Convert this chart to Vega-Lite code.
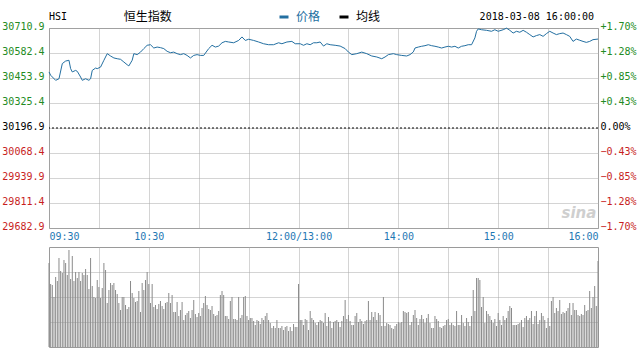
{
  "$schema": "https://vega.github.io/schema/vega-lite/v6.json",
  "padding": {"left": 1, "top": 10, "right": 0, "bottom": 0},
  "background": "white",
  "config": {
    "view": {"stroke": "#9a9a9a", "strokeWidth": 1},
    "axis": {"domain": false, "ticks": false, "grid": true, "gridColor": "#a8a8a8", "gridDash": [1, 1], "gridWidth": 1, "labelFont": "DejaVu Sans Mono", "labelFontSize": 10, "title": null},
    "concat": {"spacing": 4}
  },
  "datasets": {
    "price": [
      {"t":0,"p":30485},{"t":1,"p":30468},{"t":4,"p":30442},{"t":6,"p":30450},{"t":8,"p":30528},{"t":10,"p":30541},{"t":12,"p":30545},{"t":13,"p":30502},{"t":14,"p":30485},{"t":16,"p":30493},{"t":17,"p":30488},{"t":19,"p":30459},{"t":20,"p":30442},{"t":22,"p":30450},{"t":24,"p":30442},{"t":25,"p":30450},{"t":26,"p":30493},{"t":28,"p":30505},{"t":29,"p":30502},{"t":31,"p":30510},{"t":33,"p":30545},{"t":35,"p":30579},{"t":37,"p":30567},{"t":39,"p":30557},{"t":41,"p":30553},{"t":43,"p":30550},{"t":45,"p":30536},{"t":47,"p":30522},{"t":48,"p":30516},{"t":50,"p":30545},{"t":51,"p":30579},{"t":53,"p":30574},{"t":55,"p":30587},{"t":57,"p":30605},{"t":59,"p":30622},{"t":61,"p":30625},{"t":63,"p":30608},{"t":65,"p":30613},{"t":67,"p":30610},{"t":69,"p":30605},{"t":71,"p":30591},{"t":73,"p":30584},{"t":75,"p":30587},{"t":77,"p":30579},{"t":79,"p":30574},{"t":81,"p":30579},{"t":83,"p":30570},{"t":85,"p":30557},{"t":87,"p":30570},{"t":89,"p":30574},{"t":91,"p":30570},{"t":93,"p":30570},{"t":96,"p":30605},{"t":98,"p":30622},{"t":100,"p":30613},{"t":102,"p":30618},{"t":104,"p":30635},{"t":106,"p":30642},{"t":108,"p":30639},
      {"t":111,"p":30635},{"t":114,"p":30647},{"t":116,"p":30665},{"t":118,"p":30647},{"t":120,"p":30653},{"t":123,"p":30647},{"t":126,"p":30639},{"t":129,"p":30630},{"t":132,"p":30625},{"t":135,"p":30625},{"t":138,"p":30635},{"t":140,"p":30630},{"t":143,"p":30639},{"t":146,"p":30642},{"t":148,"p":30630},{"t":151,"p":30630},{"t":153,"p":30622},{"t":155,"p":30630},{"t":157,"p":30625},{"t":159,"p":30635},{"t":161,"p":30635},{"t":163,"p":30639},{"t":165,"p":30618},{"t":167,"p":30630},{"t":169,"p":30625},{"t":172,"p":30622},{"t":175,"p":30618},{"t":178,"p":30605},{"t":180,"p":30587},{"t":182,"p":30574},{"t":185,"p":30579},{"t":188,"p":30587},{"t":191,"p":30579},{"t":194,"p":30567},{"t":197,"p":30562},{"t":200,"p":30553},{"t":202,"p":30562},{"t":204,"p":30574},{"t":207,"p":30579},{"t":209,"p":30574},{"t":212,"p":30570},{"t":215,"p":30567},{"t":217,"p":30574},{"t":219,"p":30588},
      {"t":220,"p":30608},{"t":222,"p":30613},{"t":224,"p":30617},{"t":226,"p":30620},{"t":228,"p":30625},{"t":230,"p":30620},{"t":232,"p":30617},{"t":234,"p":30613},{"t":236,"p":30608},{"t":238,"p":30613},{"t":240,"p":30617},{"t":242,"p":30613},{"t":244,"p":30617},{"t":246,"p":30608},{"t":248,"p":30617},{"t":250,"p":30620},{"t":252,"p":30625},{"t":254,"p":30625},{"t":256,"p":30660},{"t":257,"p":30694},{"t":258,"p":30706},{"t":260,"p":30702},{"t":263,"p":30699},{"t":266,"p":30694},{"t":268,"p":30702},{"t":270,"p":30694},{"t":273,"p":30702},{"t":275,"p":30710},{"t":277,"p":30699},{"t":279,"p":30685},{"t":281,"p":30694},{"t":283,"p":30689},{"t":285,"p":30699},{"t":287,"p":30689},{"t":289,"p":30677},{"t":291,"p":30665},{"t":293,"p":30672},{"t":295,"p":30677},{"t":297,"p":30668},{"t":299,"p":30682},{"t":301,"p":30694},{"t":303,"p":30685},{"t":305,"p":30677},{"t":307,"p":30682},{"t":309,"p":30685},{"t":311,"p":30677},{"t":313,"p":30668},{"t":315,"p":30642},{"t":317,"p":30654},{"t":319,"p":30648},{"t":321,"p":30642},{"t":323,"p":30637},{"t":325,"p":30642},{"t":327,"p":30651},{"t":330,"p":30654}
    ],
    "vol": [
      {"t":0,"v":84},{"t":1,"v":63},{"t":2,"v":62},{"t":3,"v":50},{"t":4,"v":70},{"t":5,"v":66},{"t":6,"v":89},{"t":7,"v":76},{"t":8,"v":74},{"t":9,"v":87},
      {"t":10,"v":84},{"t":11,"v":72},{"t":12,"v":97},{"t":13,"v":68},{"t":14,"v":91},{"t":15,"v":66},{"t":16,"v":75},{"t":17,"v":69},{"t":18,"v":75},{"t":19,"v":66},
      {"t":20,"v":74},{"t":21,"v":72},{"t":22,"v":78},{"t":23,"v":72},{"t":24,"v":58},{"t":25,"v":89},{"t":26,"v":61},{"t":27,"v":50},{"t":28,"v":49},{"t":29,"v":67},
      {"t":30,"v":60},{"t":31,"v":49},{"t":32,"v":59},{"t":33,"v":84},{"t":34,"v":77},{"t":35,"v":44},{"t":36,"v":57},{"t":37,"v":64},{"t":38,"v":62},{"t":39,"v":64},
      {"t":40,"v":57},{"t":41,"v":53},{"t":42,"v":44},{"t":43,"v":37},{"t":44,"v":50},{"t":45,"v":50},{"t":46,"v":42},{"t":47,"v":38},{"t":48,"v":40},{"t":49,"v":66},
      {"t":50,"v":54},{"t":51,"v":49},{"t":52,"v":45},{"t":53,"v":46},{"t":54,"v":56},{"t":55,"v":35},{"t":56,"v":64},{"t":57,"v":57},{"t":58,"v":67},{"t":59,"v":75},
      {"t":60,"v":63},{"t":61,"v":44},{"t":62,"v":63},{"t":63,"v":40},{"t":64,"v":42},{"t":65,"v":38},{"t":66,"v":43},{"t":67,"v":46},{"t":68,"v":41},{"t":69,"v":38},
      {"t":70,"v":44},{"t":71,"v":45},{"t":72,"v":54},{"t":73,"v":44},{"t":74,"v":52},{"t":75,"v":35},{"t":76,"v":35},{"t":77,"v":45},{"t":78,"v":31},{"t":79,"v":37},
      {"t":80,"v":45},{"t":81,"v":27},{"t":82,"v":32},{"t":83,"v":34},{"t":84,"v":36},{"t":85,"v":29},{"t":86,"v":37},{"t":87,"v":47},{"t":88,"v":33},{"t":89,"v":30},
      {"t":90,"v":34},{"t":91,"v":31},{"t":92,"v":39},{"t":93,"v":44},{"t":94,"v":51},{"t":95,"v":42},{"t":96,"v":38},{"t":97,"v":37},{"t":98,"v":41},{"t":99,"v":33},
      {"t":100,"v":31},{"t":101,"v":32},{"t":102,"v":36},{"t":103,"v":52},{"t":104,"v":56},{"t":105,"v":52},{"t":106,"v":31},{"t":107,"v":31},{"t":108,"v":28},{"t":109,"v":46},
      {"t":110,"v":50},{"t":111,"v":28},{"t":112,"v":28},{"t":113,"v":27},{"t":114,"v":50},{"t":115,"v":29},{"t":116,"v":32},{"t":117,"v":50},{"t":118,"v":51},{"t":119,"v":31},
      {"t":120,"v":27},{"t":121,"v":29},{"t":122,"v":29},{"t":123,"v":26},{"t":124,"v":22},{"t":125,"v":27},{"t":126,"v":26},{"t":127,"v":23},{"t":128,"v":29},{"t":129,"v":27},
      {"t":130,"v":31},{"t":131,"v":34},{"t":132,"v":27},{"t":133,"v":24},{"t":134,"v":19},{"t":135,"v":21},{"t":136,"v":19},{"t":137,"v":27},{"t":138,"v":19},{"t":139,"v":19},
      {"t":140,"v":21},{"t":141,"v":17},{"t":142,"v":20},{"t":143,"v":21},{"t":144,"v":16},{"t":145,"v":20},{"t":146,"v":16},{"t":147,"v":23},{"t":148,"v":20},{"t":149,"v":20},
      {"t":150,"v":63},{"t":151,"v":27},{"t":152,"v":27},{"t":153,"v":22},{"t":154,"v":28},{"t":155,"v":27},{"t":156,"v":17},{"t":157,"v":36},{"t":158,"v":29},{"t":159,"v":27},
      {"t":160,"v":24},{"t":161,"v":22},{"t":162,"v":25},{"t":163,"v":27},{"t":164,"v":26},{"t":165,"v":24},{"t":166,"v":34},{"t":167,"v":21},{"t":168,"v":30},{"t":169,"v":26},
      {"t":170,"v":19},{"t":171,"v":25},{"t":172,"v":26},{"t":173,"v":27},{"t":174,"v":25},{"t":175,"v":20},{"t":176,"v":26},{"t":177,"v":31},{"t":178,"v":47},{"t":179,"v":28},
      {"t":180,"v":32},{"t":181,"v":26},{"t":182,"v":22},{"t":183,"v":22},{"t":184,"v":31},{"t":185,"v":34},{"t":186,"v":25},{"t":187,"v":28},{"t":188,"v":26},{"t":189,"v":23},
      {"t":190,"v":26},{"t":191,"v":27},{"t":192,"v":46},{"t":193,"v":27},{"t":194,"v":35},{"t":195,"v":30},{"t":196,"v":35},{"t":197,"v":27},{"t":198,"v":34},{"t":199,"v":32},
      {"t":200,"v":21},{"t":201,"v":50},{"t":202,"v":21},{"t":203,"v":24},{"t":204,"v":23},{"t":205,"v":22},{"t":206,"v":19},{"t":207,"v":18},{"t":208,"v":21},{"t":209,"v":23},
      {"t":210,"v":25},{"t":211,"v":24},{"t":212,"v":25},{"t":213,"v":36},{"t":214,"v":35},{"t":215,"v":34},{"t":216,"v":35},{"t":217,"v":22},{"t":218,"v":25},{"t":219,"v":32},
      {"t":220,"v":37},{"t":221,"v":29},{"t":222,"v":22},{"t":223,"v":28},{"t":224,"v":32},{"t":225,"v":28},{"t":226,"v":24},{"t":227,"v":29},{"t":228,"v":33},{"t":229,"v":24},
      {"t":230,"v":19},{"t":231,"v":19},{"t":232,"v":31},{"t":233,"v":28},{"t":234,"v":26},{"t":235,"v":20},{"t":236,"v":19},{"t":237,"v":21},{"t":238,"v":22},{"t":239,"v":27},
      {"t":240,"v":28},{"t":241,"v":22},{"t":242,"v":24},{"t":243,"v":22},{"t":244,"v":21},{"t":245,"v":36},{"t":246,"v":22},{"t":247,"v":22},{"t":248,"v":32},{"t":249,"v":24},
      {"t":250,"v":21},{"t":251,"v":29},{"t":252,"v":25},{"t":253,"v":21},{"t":254,"v":31},{"t":255,"v":57},{"t":256,"v":36},{"t":257,"v":69},{"t":258,"v":69},{"t":259,"v":67},
      {"t":260,"v":40},{"t":261,"v":50},{"t":262,"v":24},{"t":263,"v":36},{"t":264,"v":33},{"t":265,"v":31},{"t":266,"v":27},{"t":267,"v":24},{"t":268,"v":28},{"t":269,"v":21},
      {"t":270,"v":34},{"t":271,"v":27},{"t":272,"v":22},{"t":273,"v":31},{"t":274,"v":27},{"t":275,"v":29},{"t":276,"v":36},{"t":277,"v":41},{"t":278,"v":39},{"t":279,"v":22},
      {"t":280,"v":22},{"t":281,"v":22},{"t":282,"v":23},{"t":283,"v":24},{"t":284,"v":27},{"t":285,"v":20},{"t":286,"v":29},{"t":287,"v":31},{"t":288,"v":27},{"t":289,"v":29},
      {"t":290,"v":36},{"t":291,"v":23},{"t":292,"v":31},{"t":293,"v":36},{"t":294,"v":23},{"t":295,"v":27},{"t":296,"v":34},{"t":297,"v":31},{"t":298,"v":27},{"t":299,"v":19},
      {"t":300,"v":29},{"t":301,"v":21},{"t":302,"v":46},{"t":303,"v":50},{"t":304,"v":34},{"t":305,"v":39},{"t":306,"v":36},{"t":307,"v":47},{"t":308,"v":33},{"t":309,"v":35},
      {"t":310,"v":34},{"t":311,"v":36},{"t":312,"v":39},{"t":313,"v":44},{"t":314,"v":32},{"t":315,"v":44},{"t":316,"v":37},{"t":317,"v":37},{"t":318,"v":32},{"t":319,"v":31},
      {"t":320,"v":33},{"t":321,"v":32},{"t":322,"v":42},{"t":323,"v":36},{"t":324,"v":37},{"t":325,"v":56},{"t":326,"v":39},{"t":327,"v":50},{"t":328,"v":61},{"t":329,"v":41},
      {"t":330,"v":86}
    ]
  },
  "vconcat": [
    {
      "width": 549,
      "height": 200,
      "layer": [
        {
          "data": {"name": "price"},
          "mark": {"type": "line", "strokeWidth": 1},
          "encoding": {
            "x": {
              "field": "t", "type": "quantitative",
              "scale": {"domain": [0, 330], "nice": false, "zero": false},
              "axis": {
                "values": [0, 30, 60, 90, 120, 150, 180, 210, 240, 270, 300, 330],
                "labelExpr": "datum.value == 0 ? '09:30' : datum.value == 60 ? '10:30' : datum.value == 150 ? '12:00/13:00' : datum.value == 210 ? '14:00' : datum.value == 270 ? '15:00' : datum.value == 330 ? '16:00' : ''",
                "labelColor": "#1f78b4", "labelPadding": 3, "labelOverlap": false, "labelFlush": true
              }
            },
            "y": {
              "field": "p", "type": "quantitative",
              "scale": {"domain": [29682.9, 30710.9], "nice": false, "zero": false},
              "axis": {
                "orient": "left",
                "values": [29682.9, 29811.4, 29939.9, 30068.4, 30196.9, 30325.4, 30453.9, 30582.4, 30710.9],
                "format": ".1f", "labelPadding": 5, "labelOffset": -2,
                "labelColor": {"condition": [{"test": "datum.value > 30200", "value": "#238b23"}, {"test": "datum.value < 30190", "value": "#c81e1e"}], "value": "#000000"}
              }
            },
            "color": {
              "datum": "价格",
              "scale": {"domain": ["价格", "均线"], "range": ["#236fa1", "#000000"]},
              "legend": {
                "orient": "none", "legendX": 229, "legendY": -17, "direction": "horizontal", "title": null,
                "symbolType": "stroke", "symbolSize": 81, "symbolStrokeWidth": 3,
                "labelFont": "Noto Sans CJK SC", "labelFontSize": 12, "labelOffset": 6, "columnPadding": 12,
                "encode": {"labels": {"update": {"fill": {"signal": "datum.value === '价格' ? '#236fa1' : '#000000'"}}}}
              }
            }
          }
        },
        {
          "data": {"values": [{"preclose": 30196.9}]},
          "mark": {"type": "rule", "strokeDash": [2, 2], "color": "#000000", "strokeWidth": 1},
          "encoding": {
            "y": {
              "field": "preclose", "type": "quantitative",
              "axis": {
                "orient": "right", "grid": false,
                "values": [29682.9, 29811.4, 29939.9, 30068.4, 30196.9, 30325.4, 30453.9, 30582.4, 30710.9],
                "labelExpr": "abs((datum.value - 30196.9) / 30196.9 * 100) < 0.001 ? '0.00%' : ((datum.value > 30196.9 ? '+' : '') + format((datum.value - 30196.9) / 30196.9 * 100, '.2f') + '%')",
                "labelPadding": 2, "labelOffset": -2,
                "labelColor": {"condition": [{"test": "datum.value > 30200", "value": "#238b23"}, {"test": "datum.value < 30190", "value": "#c81e1e"}], "value": "#000000"}
              }
            }
          }
        },
        {
          "data": {"values": [{"label": "HSI"}]},
          "mark": {"type": "text", "font": "DejaVu Sans Mono", "fontSize": 10, "align": "left", "baseline": "middle", "dy": -11, "color": "#000000"},
          "encoding": {
            "x": {"datum": 0, "type": "quantitative"},
            "y": {"datum": 30710.9, "type": "quantitative", "axis": null},
            "text": {"field": "label"}
          }
        },
        {
          "data": {"values": [{"label": "恒生指数"}]},
          "mark": {"type": "text", "font": "Noto Sans CJK SC", "fontSize": 12, "align": "left", "baseline": "middle", "dy": -11, "color": "#000000"},
          "encoding": {
            "x": {"datum": 45, "type": "quantitative"},
            "y": {"datum": 30710.9, "type": "quantitative", "axis": null},
            "text": {"field": "label"}
          }
        },
        {
          "data": {"values": [{"label": "2018-03-08 16:00:00"}]},
          "mark": {"type": "text", "font": "DejaVu Sans Mono", "fontSize": 10, "align": "right", "baseline": "middle", "dy": -11, "color": "#000000"},
          "encoding": {
            "x": {"datum": 327.6, "type": "quantitative"},
            "y": {"datum": 30710.9, "type": "quantitative", "axis": null},
            "text": {"field": "label"}
          }
        },
        {
          "data": {"values": [{"label": "sina"}]},
          "mark": {"type": "text", "font": "DejaVu Sans", "fontSize": 15, "fontStyle": "italic", "fontWeight": "bold", "align": "right", "baseline": "middle", "color": "#cfcfcf"},
          "encoding": {
            "x": {"datum": 329, "type": "quantitative"},
            "y": {"datum": 29762, "type": "quantitative", "axis": null},
            "text": {"field": "label"}
          }
        }
      ],
      "resolve": {"axis": {"y": "independent"}}
    },
    {
      "width": 549,
      "height": 100,
      "data": {"name": "vol"},
      "mark": {"type": "rule", "color": "#8a8a8a", "strokeWidth": 1},
      "encoding": {
        "x": {
          "field": "t", "type": "quantitative",
          "scale": {"domain": [0, 330], "nice": false, "zero": false},
          "axis": {"values": [30, 60, 90, 120, 150, 180, 210, 240, 270, 300], "labels": false}
        },
        "y": {
          "field": "v", "type": "quantitative",
          "scale": {"domain": [0, 100], "nice": false},
          "axis": {"values": [25, 50, 75], "labels": false}
        },
        "y2": {"datum": 0}
      }
    }
  ]
}
